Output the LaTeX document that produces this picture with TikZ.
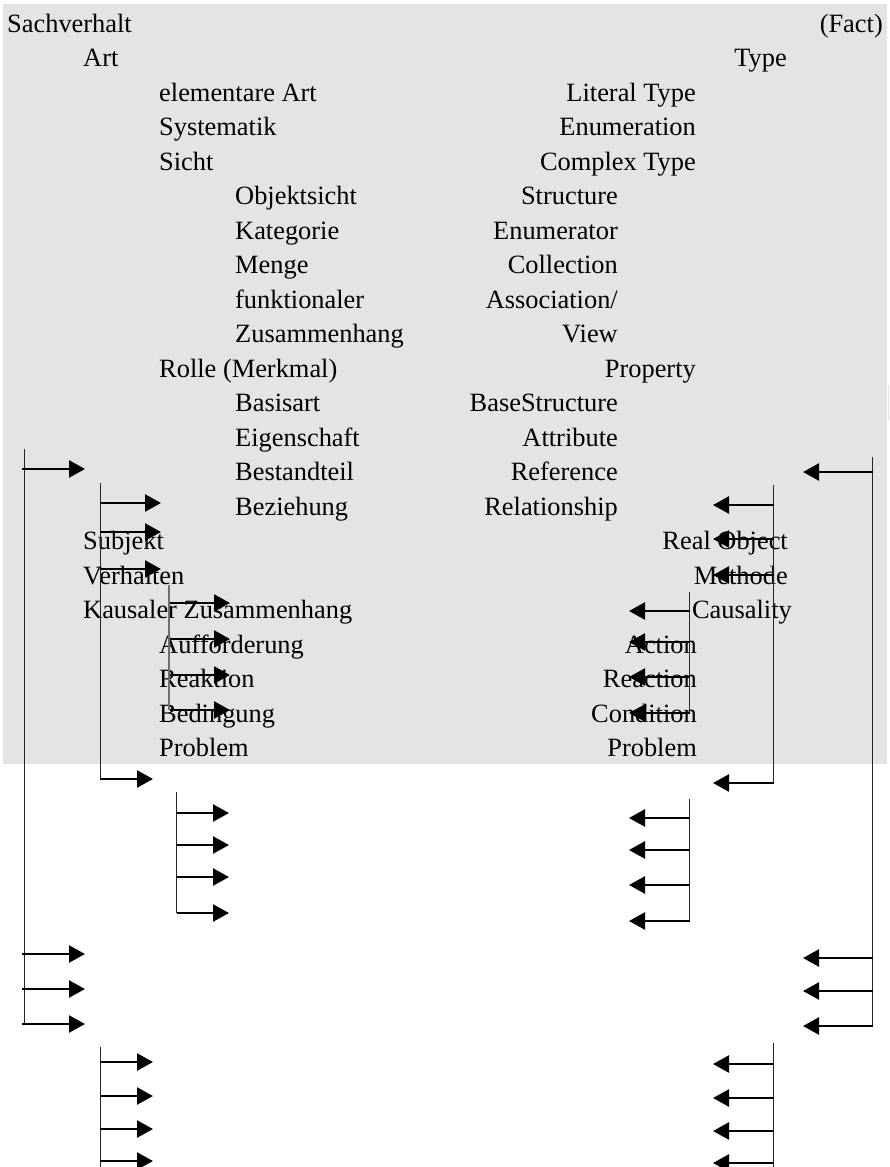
\documentclass[tikz,border=0pt]{standalone}
\usepackage{fontspec}
\setmainfont{Liberation Serif}
\usetikzlibrary{arrows.meta}
\definecolor{panel}{RGB}{228,228,228}
\definecolor{trunkgray}{RGB}{110,110,110}
\begin{document}
\begin{tikzpicture}[x=1pt,y=-1pt,
  lbl/.style={inner sep=0pt,anchor=base west,font=\fontsize{26.4}{30}\selectfont},
  rbl/.style={inner sep=0pt,anchor=base east,font=\fontsize{26.4}{30}\selectfont},
  trunk/.style={line width=1pt,black!85},
  ptr/.style={line width=2.5pt,-{Triangle[length=16pt,width=17pt]}}]
\useasboundingbox (0,0) rectangle (889,1167);
\clip (0,0) rectangle (889,1167);
% shaded panel behind the term list
\fill[panel] (3,4) rectangle (887,764);
\fill[panel] (887.6,385) rectangle (889,420);

% German terms (left column)
\foreach \nm/\r/\xx/\t in {
  sv/1/7/Sachverhalt, art/2/83/Art, elart/3/159/elementare Art,
  syst/4/159/Systematik, sicht/5/159/Sicht, objs/6/235/Objektsicht,
  kat/7/235/Kategorie, menge/8/235/Menge, funk/9/235/funktionaler,
  zus/10/235/Zusammenhang, rolle/11/159/Rolle (Merkmal),
  basis/12/235/Basisart, eig/13/235/Eigenschaft, best/14/235/Bestandteil,
  bez/15/235/Beziehung, subj/16/83/Subjekt, verh/17/83/Verhalten,
  kaus/18/83/Kausaler Zusammenhang, auff/19/159/Aufforderung,
  reak/20/159/Reaktion, bed/21/159/Bedingung, probde/22/159/Problem}
  \node[lbl] (\nm) at (\xx,{32+(\r-1)*34.5}) {\t};

% English terms (right column)
\foreach \nm/\r/\xx/\t in {
  fact/1/883/(Fact), type/2/787/Type, littype/3/696/Literal Type,
  enum/4/696/Enumeration, cplx/5/696/Complex Type, struc/6/618/Structure,
  enumr/7/618/Enumerator, coll/8/618/Collection, assoc/9/618/{Association/},
  view/10/618/View, prop/11/696/Property, bases/12/618/BaseStructure,
  attr/13/618/Attribute, ref/14/618/Reference, rel/15/618/Relationship,
  realo/16/788/Real Object, meth/17/788/Methode, caus/18/792/Causality,
  act/19/697/Action, react/20/697/Reaction, cond/21/697/Condition,
  proben/22/697/Problem}
  \node[rbl] (\nm) at (\xx,{32+(\r-1)*34.5}) {\t};

% left-hand trunks with their branches
\coordinate (lAt) at (24,449);  \coordinate (lAb) at (24,1024);
\coordinate (lBt) at (100,483); \coordinate (lBb) at (100,779);
\coordinate (lCt) at (169,585); \coordinate (lCb) at (169,710);
\coordinate (lDt) at (176,792); \coordinate (lDb) at (176,913);
\coordinate (lEt) at (100,1047);\coordinate (lEb) at (100,1167);
\draw[trunk] (lAt) -- (lAb);
\draw[trunk] (lBt) -- (lBb);
\draw[line width=1.2pt,trunkgray] (lCt) -- (lCb);
\draw[trunk] (lDt) -- (lDb);
\draw[trunk] (lEt) -- (lEb);

\foreach \k/\y in {1/469,2/954,3/989,4/1024}{
  \coordinate (lAs\k) at (22,\y); \coordinate (lAe\k) at (85,\y);
  \draw[ptr] (lAs\k) -- (lAe\k);}
\foreach \k/\y/\e in {1/503/161,2/532/161,3/569/161,4/779/153}{
  \coordinate (lBs\k) at (100,\y); \coordinate (lBe\k) at (\e,\y);
  \draw[ptr] (lBs\k) -- (lBe\k);}
\foreach \k/\y in {1/603,2/639,3/675,4/710}{
  \coordinate (lCs\k) at (170,\y); \coordinate (lCe\k) at (230,\y);
  \draw[ptr] (lCs\k) -- (lCe\k);}
\foreach \k/\y in {1/813,2/845,3/877,4/913}{
  \coordinate (lDs\k) at (177,\y); \coordinate (lDe\k) at (229,\y);
  \draw[ptr] (lDs\k) -- (lDe\k);}
\foreach \k/\y in {1/1062,2/1096,3/1129,4/1161}{
  \coordinate (lEs\k) at (100,\y); \coordinate (lEe\k) at (153,\y);
  \draw[ptr] (lEs\k) -- (lEe\k);}

% right-hand trunks with their branches
\coordinate (rAt) at (872,457);  \coordinate (rAb) at (872,1026);
\coordinate (rBt) at (773,485);  \coordinate (rBb) at (773,783);
\coordinate (rCt) at (689,592);  \coordinate (rCb) at (689,713);
\coordinate (rDt) at (689,799);  \coordinate (rDb) at (689,921);
\coordinate (rEt) at (773,1043); \coordinate (rEb) at (773,1167);
\draw[trunk] (rAt) -- (rAb);
\draw[trunk] (rBt) -- (rBb);
\draw[trunk] (rCt) -- (rCb);
\draw[trunk] (rDt) -- (rDb);
\draw[trunk] (rEt) -- (rEb);

\foreach \k/\y in {1/472,2/958,3/991,4/1026}{
  \coordinate (rAs\k) at (873,\y); \coordinate (rAe\k) at (803,\y);
  \draw[ptr] (rAs\k) -- (rAe\k);}
\foreach \k/\y in {1/505,2/539,3/575,4/783}{
  \coordinate (rBs\k) at (774,\y); \coordinate (rBe\k) at (713,\y);
  \draw[ptr] (rBs\k) -- (rBe\k);}
\foreach \k/\y in {1/611,2/642,3/677,4/713}{
  \coordinate (rCs\k) at (690,\y); \coordinate (rCe\k) at (629,\y);
  \draw[ptr] (rCs\k) -- (rCe\k);}
\foreach \k/\y in {1/818,2/850,3/885,4/921}{
  \coordinate (rDs\k) at (690,\y); \coordinate (rDe\k) at (629,\y);
  \draw[ptr] (rDs\k) -- (rDe\k);}
\foreach \k/\y in {1/1064,2/1098,3/1131,4/1163}{
  \coordinate (rEs\k) at (774,\y); \coordinate (rEe\k) at (713,\y);
  \draw[ptr] (rEs\k) -- (rEe\k);}
\end{tikzpicture}
\end{document}
